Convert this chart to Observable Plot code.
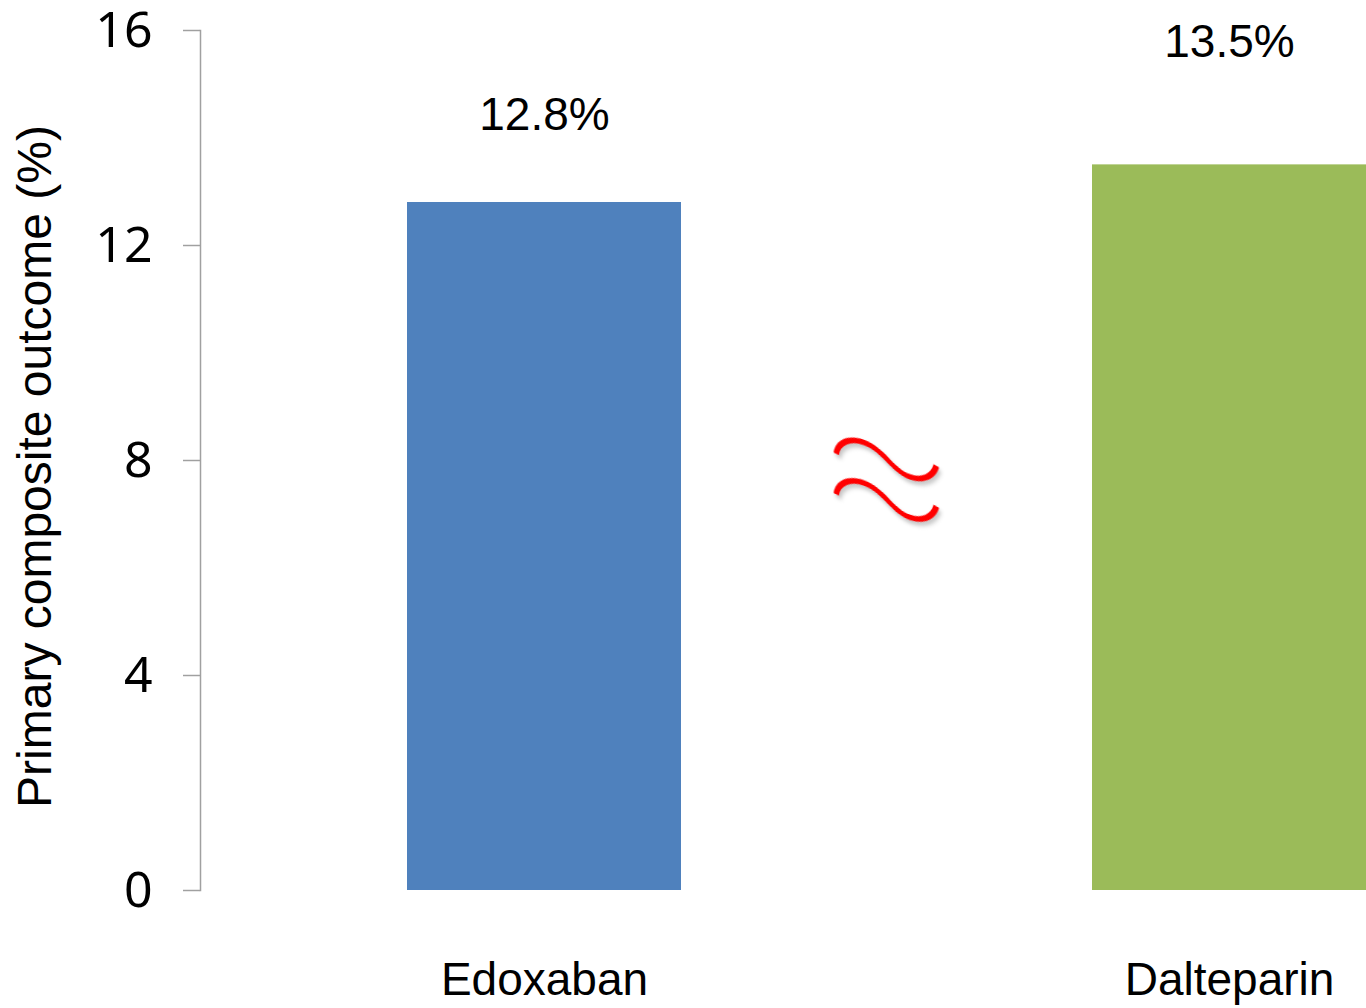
<!DOCTYPE html>
<html>
<head>
<meta charset="utf-8">
<script src="https://cdn.jsdelivr.net/npm/d3@7"></script>
<script src="https://cdn.jsdelivr.net/npm/@observablehq/plot@0.6"></script>
<style>
  html, body { margin: 0; padding: 0; background: #fff; }
  #chart svg { display: block; }
  text.approx { filter: drop-shadow(2px 3px 2px rgba(0,0,0,0.25)); }
</style>
</head>
<body>
<div id="chart"></div>
<script>
// Primary composite outcome by treatment arm
const categories = ["Edoxaban", "Dalteparin"];
const outcomePct = [12.8, 13.5];
const valueLabels = ["12.8%", "13.5%"];
const yTicks = [0, 4, 8, 12, 16];
const yLabel = "Primary composite outcome (%)";
const approxSign = "≈";

const rows = categories.map((c, i) => ({category: c, value: outcomePct[i], label: valueLabels[i]}));

const chart = Plot.plot({
  width: 1366,
  height: 1008,
  marginTop: 30,
  marginBottom: 118,
  marginLeft: 200,
  marginRight: 0,
  style: {fontFamily: "'Liberation Sans', Arial, sans-serif", background: "#fff", color: "#000"},
  x: {domain: categories, paddingInner: 0.6, paddingOuter: 0.15, align: 1, label: null},
  y: {domain: [0, 16], label: null},
  color: {domain: categories, range: ["#4f81bd", "#9bbb59"]},
  marks: [
    Plot.barY(rows, {x: "category", y: "value", fill: "category"}),
    Plot.frame({anchor: "left", stroke: "#a0a0a0", strokeWidth: 1.5}),
    Plot.axisY({
      ticks: yTicks, tickSize: 17, tickPadding: 31, stroke: "#a0a0a0", strokeWidth: 1.5,
      fill: "#000", fontSize: 50, fontFamily: "'Noto Sans', sans-serif", label: null
    }),
    Plot.axisX({tickSize: 0, tickPadding: 72, fontSize: 46, fill: "#000", label: null}),
    // value labels above each bar
    Plot.text(rows.filter(d => d.category === "Edoxaban"), {
      x: "category", y: "value", text: "label", lineAnchor: "bottom", dy: -73, fontSize: 46, fill: "#000"
    }),
    Plot.text(rows.filter(d => d.category === "Dalteparin"), {
      x: "category", y: "value", text: "label", lineAnchor: "bottom", dy: -108, fontSize: 46, fill: "#000"
    }),
    // y-axis title
    Plot.text([yLabel], {
      frameAnchor: "left", dx: -150, dy: 6, rotate: -90, textAnchor: "middle", lineAnchor: "bottom",
      fontSize: 48, fill: "#000"
    }),
    // "approximately equal" sign between the two arms
    Plot.text([approxSign], {
      frameAnchor: "middle", dx: 103, dy: 11, rotate: 1, fontSize: 235,
      fontFamily: "Inter, sans-serif", fontWeight: 100, fill: "#ff0000"
    })
  ]
});

// slant the wavy sign so both strokes run downhill while staying stacked vertically
d3.select(chart).selectAll("text")
  .filter(function () { return this.textContent === approxSign; })
  .each(function () {
    this.classList.add("approx");
    const t = this.getAttribute("transform");
    if (t) this.setAttribute("transform", t.replace(/rotate\([^)]*\)/, "skewY(19)"));
  });

document.getElementById("chart").append(chart);
</script>
</body>
</html>
